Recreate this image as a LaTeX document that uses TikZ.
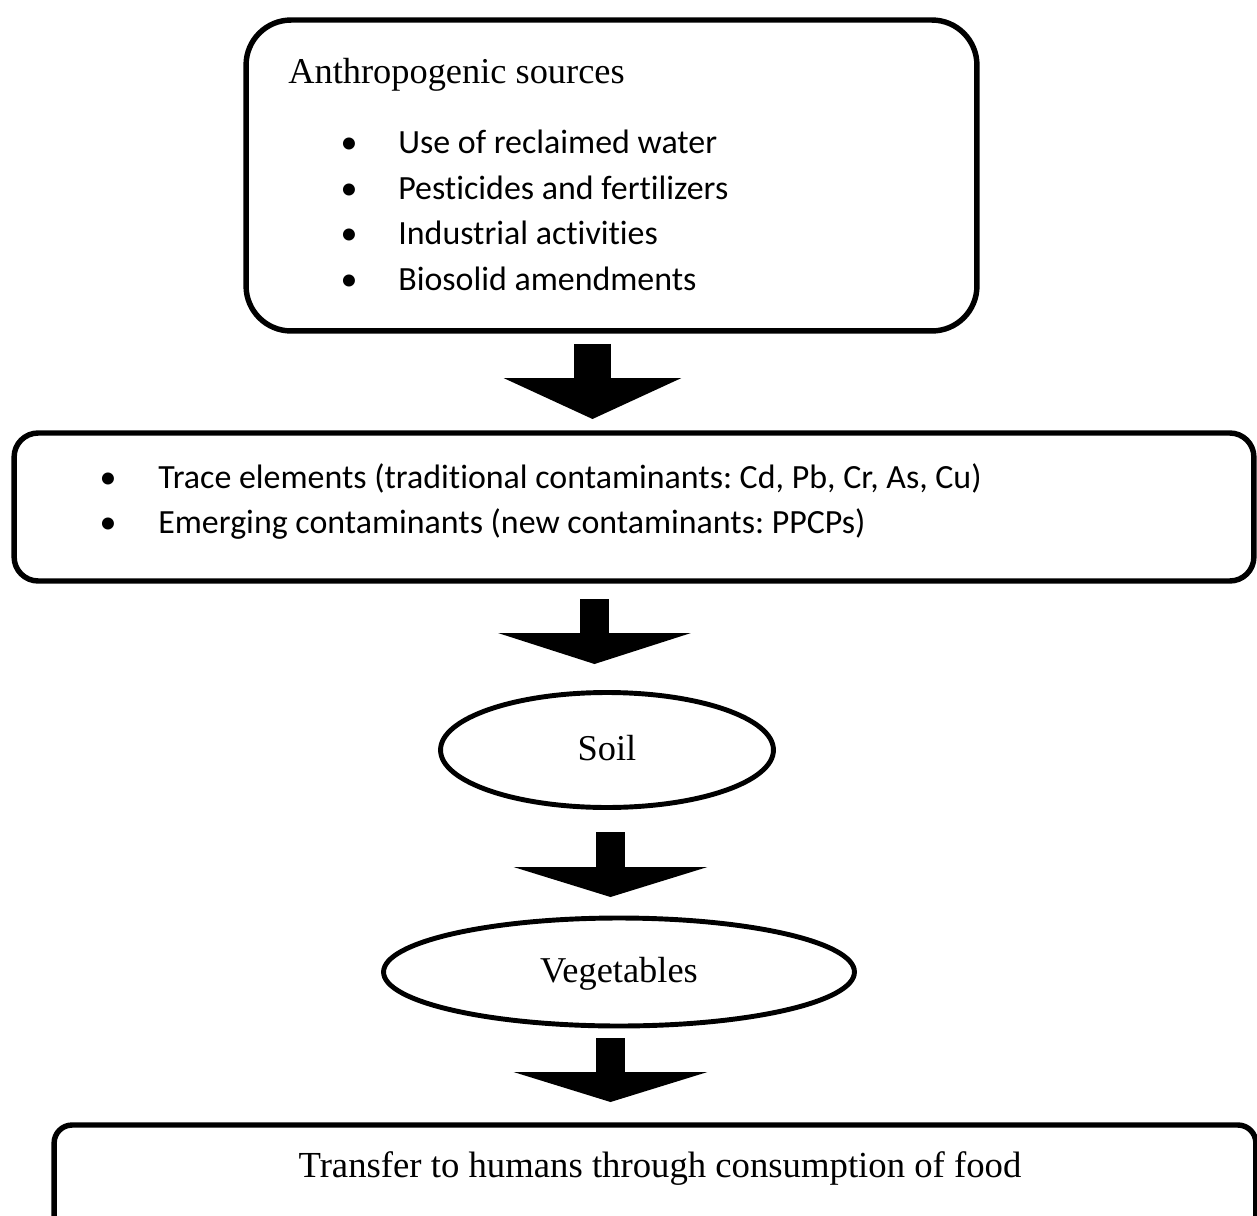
\documentclass[tikz,border=0pt]{standalone}
\usepackage{fontspec}
\setmainfont{Liberation Serif}
\newfontfamily\carlito{Carlito}[Ligatures=NoCommon]
\usetikzlibrary{shapes.geometric,arrows.meta}
\frenchspacing

\newcommand\headsize{\fontsize{20.7}{25}\selectfont}
\newcommand\footsize{\fontsize{20.9}{25}\selectfont}
\newcommand\listsize{\carlito\fontsize{19.3}{23}\selectfont}

\tikzset{
  frame/.style={draw, line width=3.1pt, rounded corners=#1, inner sep=0pt},
  oval/.style={draw, ellipse, line width=2.8pt, inner sep=0pt, text depth=0.22em, font=\headsize},
  item/.style={anchor=base west, inner sep=0pt, font=\listsize},
  bulletmark/.style={anchor=base, inner sep=0pt, font=\listsize},
  bigarrow/.style n args={3}{line width=#1, -{Triangle[width=#2, length=#3, line width=0pt]}},
}

\begin{document}
\begin{tikzpicture}[x=0.02cm, y=-0.02cm]

\path[use as bounding box, clip] (0,0) rectangle (1257,1216);

% boxes
\node[frame=0.9cm, minimum width=14.62cm, minimum height=6.22cm] (src) at (611.5,175.5) {};
\node[frame=0.48cm, minimum width=24.8cm, minimum height=2.96cm] (cont) at (634,507) {};
\node[frame=0.36cm, minimum width=24.04cm, minimum height=2.7cm] (human) at (655,1192.5) {};

% ellipses
\node[oval, minimum width=6.66cm, minimum height=2.3cm] (soil) at (607,750) {Soil};
\node[oval, minimum width=9.42cm, minimum height=2.16cm] (veg) at (619,972) {Vegetables};

% sources
\node[anchor=base west, inner sep=0pt, font=\headsize] (srctitle) at (288,84) {Anthropogenic sources};
\foreach \y/\txt [count=\i] in {154/Use of reclaimed water, 199.5/Pesticides and fertilizers, 245/Industrial activities, 290.5/Biosolid amendments}{
  \node[bulletmark] (sb\i) at (349,\y) {•};
  \node[item] (si\i) at (398,\y) {\txt};
}

% contaminants
\node[bulletmark] (cb1) at (108,488) {•};
\node[item] (ci1) at (158,488) {Trace elements (traditional contaminants: Cd, Pb, Cr, As, Cu)};
\node[bulletmark] (cb2) at (108,533) {•};
\node[item] (ci2) at (158,533) {Emerging contaminants (new contaminants: PPCPs)};

% humans
\node[anchor=base, inner sep=0pt, font=\footsize] (food) at (660,1177) {Transfer to humans through consumption of food};

% block arrows
\coordinate (a1s) at (592.5,344);
\coordinate (a1e) at (592.5,419);
\coordinate (a2s) at (594.5,599);
\coordinate (a2e) at (594.5,664);
\coordinate (a3s) at (610.5,832);
\coordinate (a3e) at (610.5,897);
\coordinate (a4s) at (610.5,1038);
\coordinate (a4e) at (610.5,1102);

\draw[bigarrow={0.74cm}{3.56cm}{0.82cm}] (a1s) -- (a1e);
\draw[bigarrow={0.58cm}{3.86cm}{0.62cm}] (a2s) -- (a2e);
\draw[bigarrow={0.58cm}{3.88cm}{0.6cm}] (a3s) -- (a3e);
\draw[bigarrow={0.58cm}{3.88cm}{0.6cm}] (a4s) -- (a4e);

\end{tikzpicture}
\end{document}
